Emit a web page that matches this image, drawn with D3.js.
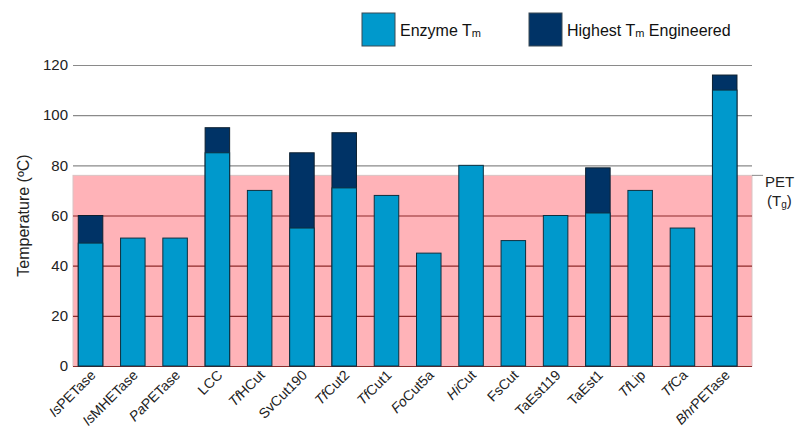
<!DOCTYPE html>
<html>
  <head>
    <script src="https://d3js.org/d3.v7.min.js"></script>
    <style>
      body { margin: 0; background: #fff; }
      svg { font-family: "Liberation Sans", Arial, sans-serif; }
      .ylabels text { font-size: 15px; fill: #222; }
      .xlabels text { font-size: 14px; fill: #222; }
    </style>
  </head>
  <body>
    <svg width="797" height="446"></svg>
    <script>
      const enzymes = ["IsPETase", "IsMHETase", "PaPETase", "LCC", "TfHCut", "SvCut190", "TfCut2",
        "TfCut1", "FoCut5a", "HiCut", "FsCut", "TaEst119", "TaEst1", "TfLip", "TfCa", "BhrPETase"];
      // italic organism prefix of each label ("" = none)
      const italicPrefix = ["Is", "Is", "Pa", "", "Tf", "", "Tf", "Tf", "Fo", "Hi", "", "", "", "Tf", "Tf", "Bhr"];
      const enzymeTm = [49, 51, 51, 85, 70, 55, 71, 68, 45, 80, 50, 60, 61, 70, 55, 110];
      const engineeredTm = [60, null, null, 95, null, 85, 93, null, null, null, null, null, 79, null, null, 116];
      const yTicks = [0, 20, 40, 60, 80, 100, 120];
      const petTg = 76;

      const svg = d3.select("svg");
      const lightBlue = "#0099cc";
      const darkBlue = "#003366";

      const x = d3.scaleBand()
        .domain(enzymes)
        .range([73, 752])
        .paddingInner(0.42)
        .paddingOuter(0.24)
        .align(0.26);
      const y = d3.scaleLinear().domain([0, 120]).range([366, 65]);

      // PET Tg band
      svg.append("rect")
        .attr("x", 73)
        .attr("y", y(petTg))
        .attr("width", 752 - 73)
        .attr("height", y(0) - y(petTg))
        .attr("fill", "#ffb3b8")
        .attr("stroke", "#d9c4c4")
        .attr("stroke-width", 1);

      // gridlines
      svg.append("g").selectAll("line")
        .data(yTicks)
        .join("line")
          .attr("x1", 73)
          .attr("x2", 752)
          .attr("y1", d => y(d) + 0.5)
          .attr("y2", d => y(d) + 0.5)
          .attr("stroke", d => d < petTg ? "#8e2a2a" : "#8a8a8a")
          .attr("stroke-width", 1.2);

      // y tick labels
      svg.append("g")
          .attr("class", "ylabels")
        .selectAll("text")
        .data(yTicks)
        .join("text")
          .attr("x", 68)
          .attr("y", d => y(d))
          .attr("dy", "0.35em")
          .attr("text-anchor", "end")
          .text(d => d);

      svg.append("text")
        .attr("transform", `translate(29, ${y(60)}) rotate(-90)`)
        .attr("text-anchor", "middle")
        .attr("font-size", 16)
        .attr("fill", "#222")
        .text("Temperature (ºC)");

      // engineered (dark) bars behind
      svg.append("g").selectAll("rect")
        .data(enzymes.map((e, i) => ({e, v: engineeredTm[i]})).filter(d => d.v != null))
        .join("rect")
          .attr("x", d => x(d.e))
          .attr("y", d => y(d.v))
          .attr("width", x.bandwidth())
          .attr("height", d => y(0) - y(d.v))
          .attr("fill", darkBlue)
          .attr("stroke", "#0d2030")
          .attr("stroke-width", 1);

      // enzyme Tm bars
      svg.append("g").selectAll("rect")
        .data(enzymes.map((e, i) => ({e, v: enzymeTm[i]})))
        .join("rect")
          .attr("x", d => x(d.e))
          .attr("y", d => y(d.v))
          .attr("width", x.bandwidth())
          .attr("height", d => y(0) - y(d.v))
          .attr("fill", lightBlue)
          .attr("stroke", "#0d3040")
          .attr("stroke-width", 1);

      // x labels, rotated 45 degrees
      const xg = svg.append("g")
          .attr("class", "xlabels")
        .selectAll("g")
        .data(enzymes)
        .join("g")
          .attr("transform", d => `translate(${x(d) + x.bandwidth() / 2 + 6}, 376)`);
      const xl = xg.append("text")
          .attr("text-anchor", "end")
          .attr("transform", "rotate(-45)");
      xl.each(function(d, i) {
        const t = d3.select(this);
        const p = italicPrefix[i];
        if (p) t.append("tspan").attr("font-style", "italic").text(p);
        t.append("tspan").text(d.slice(p.length));
      });

      // PET Tg marker
      svg.append("line")
        .attr("x1", 752).attr("x2", 763)
        .attr("y1", y(petTg)).attr("y2", y(petTg))
        .attr("stroke", "#8a8a8a");
      svg.append("text")
        .attr("x", 765).attr("y", 187)
        .attr("font-size", 15).attr("fill", "#222")
        .text("PET");
      const tg = svg.append("text")
        .attr("x", 767).attr("y", 206)
        .attr("font-size", 15).attr("fill", "#222");
      tg.append("tspan").text("(T");
      tg.append("tspan").attr("font-size", 10).attr("dy", 2).text("g");
      tg.append("tspan").attr("dy", -2).text(")");

      // legend
      const legend = [
        {color: lightBlue, label: "Enzyme T", sub: "m", after: "", x: 362},
        {color: darkBlue, label: "Highest T", sub: "m", after: " Engineered", x: 529}
      ];
      const lg = svg.append("g").selectAll("g")
        .data(legend)
        .join("g")
          .attr("transform", d => `translate(${d.x}, 13)`);
      lg.append("rect")
        .attr("width", 33).attr("height", 33)
        .attr("fill", d => d.color)
        .attr("stroke", "#3a4a55")
        .attr("stroke-width", 1);
      const lt = lg.append("text")
        .attr("x", 38).attr("y", 23)
        .attr("font-size", 16).attr("fill", "#111");
      lt.append("tspan").text(d => d.label);
      lt.append("tspan").attr("font-size", 11).attr("dy", 1).text(d => d.sub);
      lt.append("tspan").attr("dy", -1).text(d => d.after);
    </script>
  </body>
</html>
